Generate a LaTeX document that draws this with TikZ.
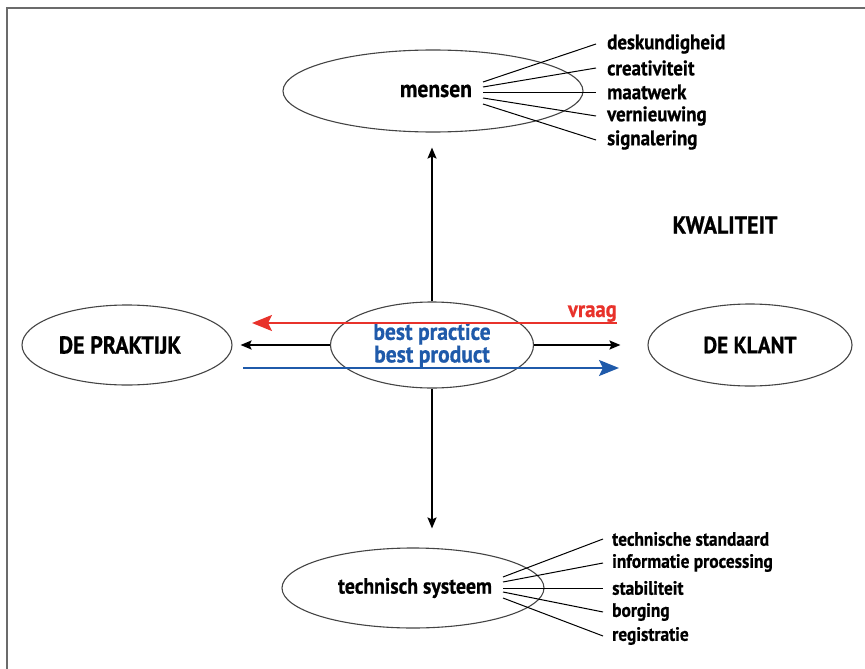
\documentclass[tikz,border=0pt]{standalone}
\usepackage{fontspec}
\setmainfont[FakeStretch=0.9, BoldFeatures={FakeBold=0.7}]{PT Sans}
\usetikzlibrary{arrows.meta,shapes.geometric}
\definecolor{qred}{HTML}{E8322B}
\definecolor{qblue}{HTML}{1F5AAA}
\definecolor{frame}{HTML}{6B6B6B}
\definecolor{ell}{HTML}{444444}
\tikzset{
  oval/.style={ellipse, draw=ell, line width=1.1pt, inner sep=0pt},
  big/.style={font=\bfseries\fontsize{#1}{24}\selectfont},
  lbl/.style={anchor=west, inner sep=0pt, font=\bfseries\fontsize{#1}{22}\selectfont},
  fan/.style={draw=black, line width=1pt},
  blk/.style={draw=black, line width=1.8pt, -{Stealth[length=11pt,width=9pt,inset=2pt]}},
  red arrow/.style={draw=qred, line width=2.2pt, -{Stealth[length=20pt,width=16pt,inset=4pt]}},
  blue arrow/.style={draw=qblue, line width=2.2pt, -{Stealth[length=20pt,width=16pt,inset=4pt]}},
}
\begin{document}
\begin{tikzpicture}[x=1pt,y=-1pt]
\useasboundingbox (0,0) rectangle (865,669);
\draw[frame, line width=2pt] (865,8) -- (7,8) -- (7,669);

% ellipses
\node[oval, big=24, minimum width=300pt, minimum height=82pt] (m) at (433,91) {\hspace*{6pt}mensen};
\node[oval, minimum width=203pt, minimum height=86pt, text=qblue, align=center,
      font=\bfseries\fontsize{24}{20.5}\selectfont] (c) at (432,345) {best practice\\best product};
\node[oval, big=24.5, minimum width=210pt, minimum height=80pt] (p) at (127,345) {DE PRAKTIJK\hspace*{14pt}};
\node[oval, big=23.5, minimum width=204pt, minimum height=82pt] (k) at (750,345) {DE KLANT};
\node[oval, big=22, minimum width=262pt, minimum height=80pt] (t) at (413,588) {\hspace*{4pt}technisch systeem};
\node[big=24.5, inner sep=0pt] (q) at (725,225) {KWALITEIT};

% mensen fan
\coordinate (ma1) at (483,82);
\coordinate (ma2) at (483,87);
\coordinate (ma3) at (483,92);
\coordinate (ma4) at (483,98);
\coordinate (ma5) at (483,104);
\node[lbl=21, inner xsep=11pt] (m1) at (596,44) {deskundigheid};
\node[lbl=21, inner xsep=11pt] (m2) at (596,68) {creativiteit};
\node[lbl=21, inner xsep=11pt] (m3) at (596,92) {maatwerk};
\node[lbl=21, inner xsep=11pt] (m4) at (596,116) {vernieuwing};
\node[lbl=21, inner xsep=11pt] (m5) at (596,140) {signalering};
\foreach \i in {1,...,5} \draw[fan] (ma\i) -- (m\i.west);

% technisch systeem fan
\coordinate (ta1) at (503,577);
\coordinate (ta2) at (503,582);
\coordinate (ta3) at (503,588);
\coordinate (ta4) at (503,592);
\coordinate (ta5) at (503,598);
\node[lbl=19.3, inner xsep=9pt] (t1) at (603,539) {technische standaard};
\node[lbl=19.3, inner xsep=9pt] (t2) at (603,563) {informatie processing};
\node[lbl=19.3, inner xsep=9pt] (t3) at (603,588) {stabiliteit};
\node[lbl=19.3, inner xsep=9pt] (t4) at (603,612) {borging};
\node[lbl=19.3, inner xsep=9pt] (t5) at (603,636) {registratie};
\foreach \i in {1,...,5} \draw[fan] (ta\i) -- (t\i.west);

% black arrows
\draw[blk, shorten >=15pt] (c.north) -- (c.north |- m.south);
\draw[blk, shorten >=19pt] (c.south) -- (c.south |- t.north);
\draw[blk, shorten >=8pt] (c.west) -- (p.east);
\draw[blk, shorten >=27pt] (c.east) -- (k.west);

% red and blue arrows
\coordinate (rs) at (617,323);
\coordinate (re) at (252,323);
\coordinate (bs) at (243,368);
\coordinate (be) at (619,368);
\draw[red arrow] (rs) -- (re);
\draw[blue arrow] (bs) -- (be);
\node[anchor=base east, inner sep=0pt, text=qred, big=23] (v) at (617,317) {vraag};
\end{tikzpicture}
\end{document}
